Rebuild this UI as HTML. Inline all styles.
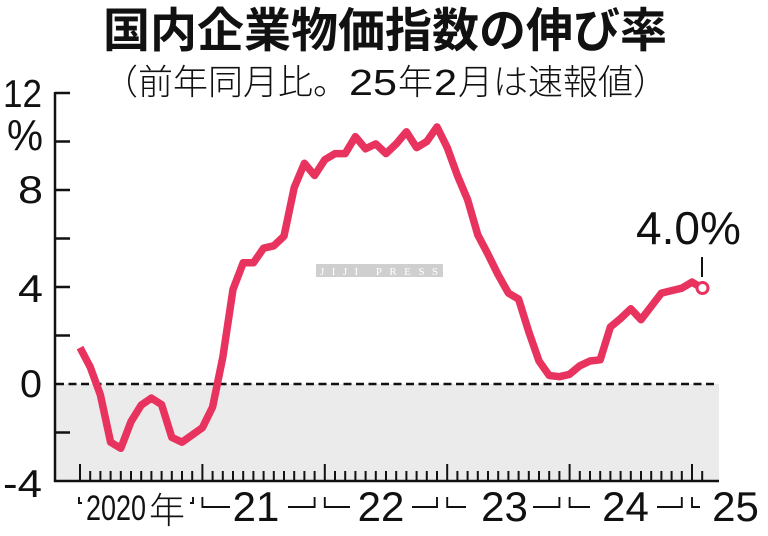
<!DOCTYPE html>
<html>
<head>
<meta charset="utf-8">
<style>
html,body{margin:0;padding:0;background:#fff;}
svg{display:block;}
</style>
</head>
<body>
<svg width="768" height="536" viewBox="0 0 768 536" xmlns="http://www.w3.org/2000/svg">
<rect width="768" height="536" fill="#fff"/>

<text x="103" y="47" font-family="'Liberation Sans','Noto Sans CJK JP',sans-serif" font-weight="700" font-size="47" fill="#111">国内企業物価指数の伸び率</text>

<g font-family="'Liberation Sans','Noto Sans CJK JP',sans-serif" font-weight="300" font-size="35" fill="#111">
<text x="103" y="94.5">（前年同月比。</text>
<text x="349" y="95" font-size="36" textLength="48" lengthAdjust="spacingAndGlyphs">25</text>
<text x="398" y="94.5">年</text>
<text x="434" y="95" font-size="36" textLength="23" lengthAdjust="spacingAndGlyphs">2</text>
<text x="458" y="94.5">月は速報値）</text>
</g>

<rect x="56" y="384" width="663" height="97" fill="#ebebeb"/>
<line x1="56" y1="384" x2="718" y2="384" stroke="#111" stroke-width="2.5" stroke-dasharray="8 4.5"/>

<path d="M55 92V482M55 93H70M55 141.5H70M55 190H70M55 238.5H70M55 287H70M55 335.5H70M55 432.5H70M54 481H719" stroke="#111" stroke-width="2.5" fill="none"/>

<g font-family="'Liberation Sans',sans-serif" font-size="39" fill="#111">
<text x="3" y="107" textLength="39" lengthAdjust="spacingAndGlyphs">12</text>
<text x="7" y="150" font-size="44" textLength="36" lengthAdjust="spacingAndGlyphs">%</text>
<text x="18" y="203" textLength="25" lengthAdjust="spacingAndGlyphs">8</text>
<text x="18" y="302" textLength="25" lengthAdjust="spacingAndGlyphs">4</text>
<text x="20" y="397" textLength="22" lengthAdjust="spacingAndGlyphs">0</text>
<text x="3" y="497" textLength="39" lengthAdjust="spacingAndGlyphs">-4</text>
</g>

<path stroke="#111" stroke-width="2" fill="none" d="M80 464V481M90.2 471V481M100.4 471V481M110.6 471V481M120.8 471V481M131 471V481M141.2 471V481M151.4 471V481M161.6 471V481M171.8 471V481M182 471V481M192.2 471V481M202.4 464V481M212.6 471V481M222.8 471V481M233 471V481M243.2 471V481M253.4 471V481M263.6 471V481M273.8 471V481M284 471V481M294.2 471V481M304.4 471V481M314.6 471V481M324.8 464V481M335 471V481M345.2 471V481M355.4 471V481M365.6 471V481M375.8 471V481M386 471V481M396.2 471V481M406.4 471V481M416.6 471V481M426.8 471V481M437 471V481M447.2 464V481M457.4 471V481M467.6 471V481M477.8 471V481M488 471V481M498.2 471V481M508.4 471V481M518.6 471V481M528.8 471V481M539 471V481M549.2 471V481M559.4 471V481M569.6 464V481M579.8 471V481M590 471V481M600.2 471V481M610.4 471V481M620.6 471V481M630.8 471V481M641 471V481M651.2 471V481M661.4 471V481M671.6 471V481M681.8 471V481M692 464V481M702.2 471V481"/>

<path stroke="#111" stroke-width="1.9" fill="none" d="M79 497V503H82M190 503H193V497M202.4 497V507H230M288 507H314.6V497M324.8 497V507H350M412 507H437V497M447.2 497V507H466M533 507H559.4V497M569.6 497V507H590M657 507H681.8V497M692 497V507H700"/>

<g font-family="'Liberation Sans',sans-serif" fill="#111">
<text x="86" y="520" font-size="35" textLength="60" lengthAdjust="spacingAndGlyphs">2020</text>
<text x="149" y="523" font-size="36" font-weight="300" font-family="'Liberation Sans','Noto Sans CJK JP',sans-serif">年</text>
<text x="256" y="521" font-size="42" text-anchor="middle">21</text>
<text x="381" y="521" font-size="42" text-anchor="middle">22</text>
<text x="504.5" y="521" font-size="42" text-anchor="middle">23</text>
<text x="625.5" y="521" font-size="42" text-anchor="middle">24</text>
<text x="735.5" y="521" font-size="42" text-anchor="middle">25</text>
</g>

<rect x="316" y="264" width="127" height="13" fill="#cfcfcf"/>
<text x="320" y="275" font-family="'Liberation Serif',serif" font-size="11" fill="#fff" textLength="118" lengthAdjust="spacing">JIJI PRESS</text>

<polyline fill="none" stroke="#e8335f" stroke-width="7.5" stroke-linejoin="round" stroke-linecap="butt" points="80,347.6 90.2,367.0 100.4,394.9 110.6,442.2 120.8,448.3 131,421.6 141.2,405.1 151.4,398.1 161.6,404.6 171.8,437.4 182,442.2 192.2,434.9 202.4,427.7 212.6,407.0 222.8,357.3 233,289.4 243.2,262.8 253.4,262.8 263.6,248.2 273.8,245.8 284,236.1 294.2,187.6 304.4,163.3 314.6,175.5 324.8,159.7 335,153.6 345.2,153.6 355.4,136.7 365.6,148.8 375.8,143.9 386,153.6 396.2,143.9 406.4,131.8 416.6,147.6 426.8,141.5 437,127.0 447.2,147.6 457.4,175.5 467.6,199.7 477.8,234.9 488,254.3 498.2,274.9 508.4,293.1 518.6,299.1 528.8,331.9 539,361.0 549.2,375.5 559.4,376.7 569.6,374.3 579.8,365.8 590,361.0 600.2,359.8 610.4,327.0 620.6,318.5 630.8,308.8 641,319.7 651.2,306.4 661.4,293.1 671.6,290.6 681.8,288.2 692,282.1 702.2,288.2"/>

<circle cx="702.5" cy="288" r="5.5" fill="#fff" stroke="#e8335f" stroke-width="3"/>
<line x1="702" y1="257" x2="702" y2="277" stroke="#111" stroke-width="2"/>
<text x="636" y="244" font-family="'Liberation Sans',sans-serif" font-size="46" fill="#111">4.0%</text>

</svg>
</body>
</html>
